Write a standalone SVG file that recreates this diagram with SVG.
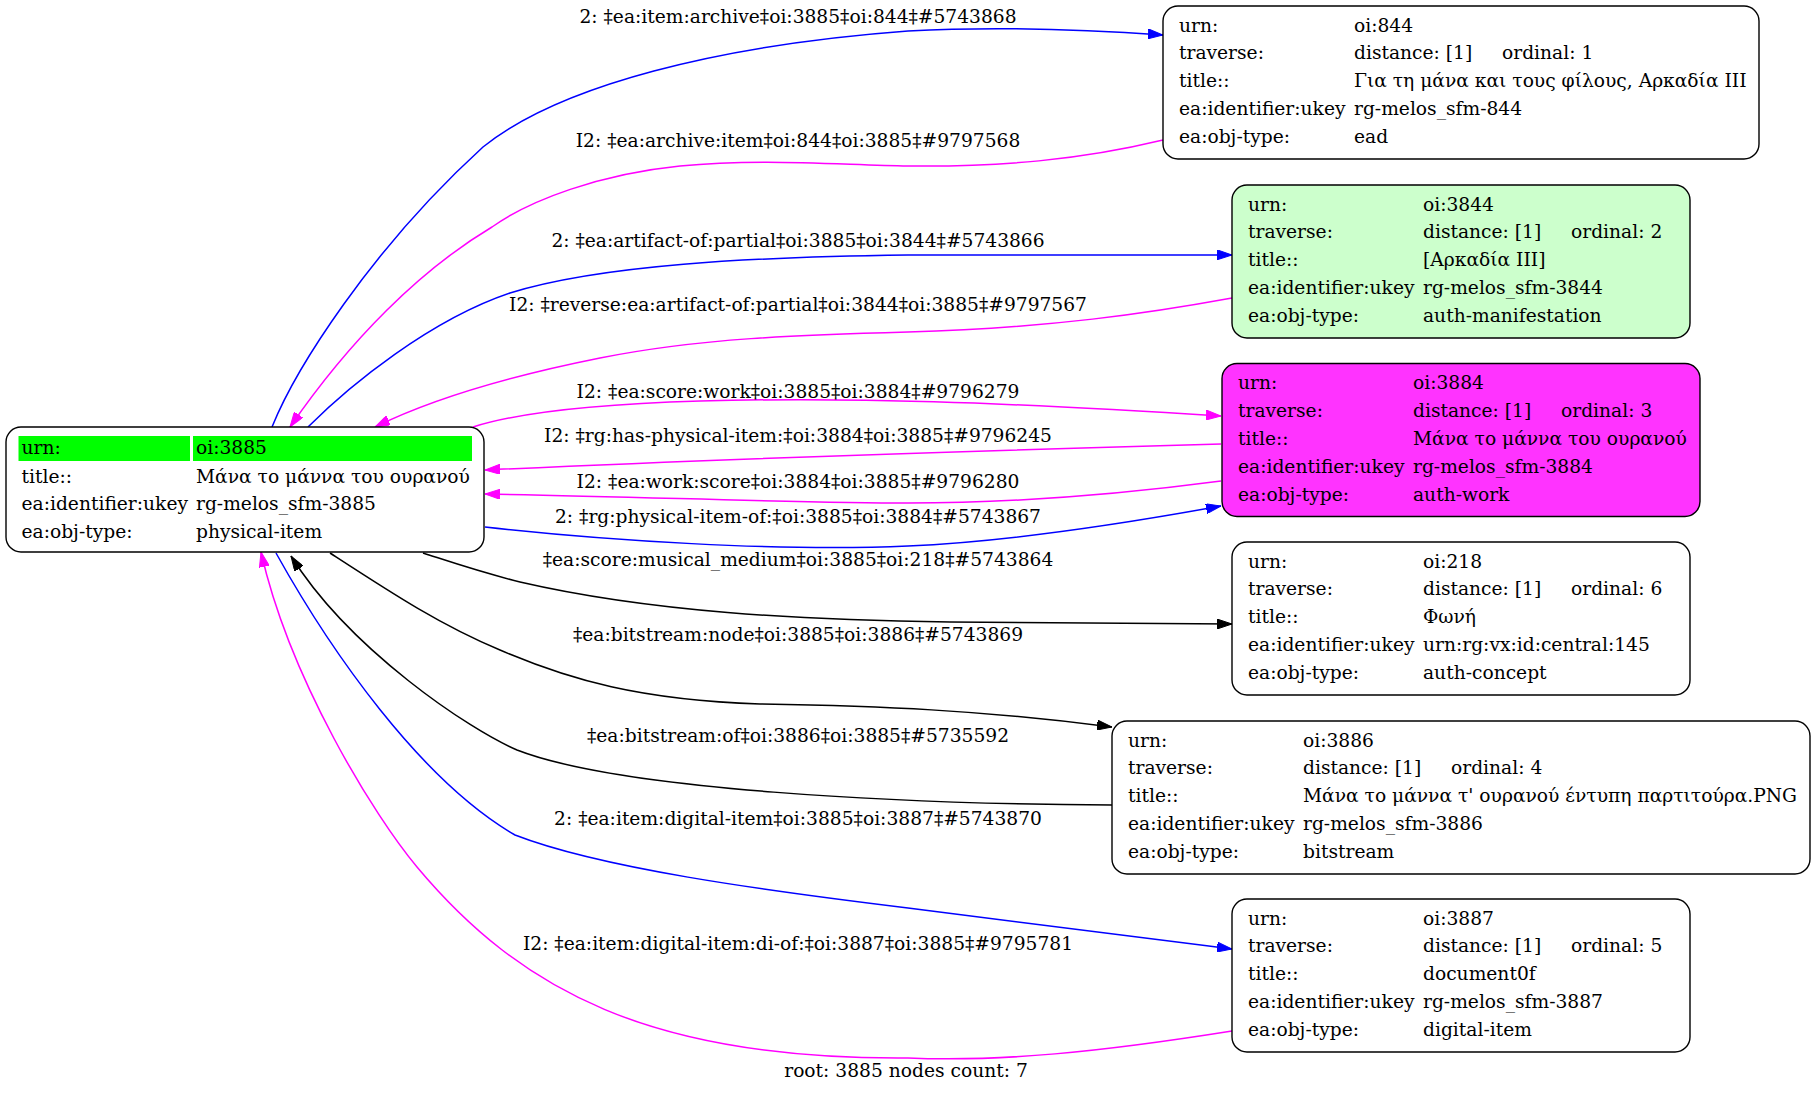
<svg xmlns="http://www.w3.org/2000/svg" width="1816" height="1094" viewBox="0 0 1816 1094">
<style>
text { font-family: "DejaVu Serif", "Liberation Serif", serif; font-size: 18.67px; fill: #000; }
.box { stroke: #000; stroke-width: 1.4; }
.e { fill: none; stroke-width: 1.5; }
.blue { stroke: #0000ff; }
.mag { stroke: #ff00ff; }
.blk { stroke: #000000; }
.lbl { text-anchor: middle; }
</style>
<defs>
<marker id="ab" markerUnits="userSpaceOnUse" viewBox="0 0 15 10" markerWidth="15" markerHeight="10" refX="15" refY="5" orient="auto"><path d="M0,0 L15,5 L0,10 z" fill="#0000ff" stroke="#0000ff" stroke-width="1"/></marker>
<marker id="am" markerUnits="userSpaceOnUse" viewBox="0 0 15 10" markerWidth="15" markerHeight="10" refX="15" refY="5" orient="auto"><path d="M0,0 L15,5 L0,10 z" fill="#ff00ff" stroke="#ff00ff" stroke-width="1"/></marker>
<marker id="ak" markerUnits="userSpaceOnUse" viewBox="0 0 15 10" markerWidth="15" markerHeight="10" refX="15" refY="5" orient="auto"><path d="M0,0 L15,5 L0,10 z" fill="#000" stroke="#000" stroke-width="1"/></marker>
</defs>
<rect width="1816" height="1094" fill="#fff"/>
<g id="edges">
<path class="e blue" marker-end="url(#ab)" d="M272,427 C295,370 370,250 483,147 C560,85 720,45 908,31 C1000,26 1080,29 1163,35"/>
<text class="lbl" x="798" y="23">2: ‡ea:item:archive‡oi:3885‡oi:844‡#5743868</text>
<path class="e mag" marker-end="url(#am)" d="M1163,140 C1080,160 1000,167 908,166 C840,165 760,158 680,166 C600,174 530,200 492,227 C420,270 350,340 290,427"/>
<text class="lbl" x="798" y="147">I2: ‡ea:archive:item‡oi:844‡oi:3885‡#9797568</text>
<path class="e blue" marker-end="url(#ab)" d="M308,427 C350,385 430,320 510,293 C600,265 750,257 908,255 C1050,254 1150,254 1232,255"/>
<text class="lbl" x="798" y="247">2: ‡ea:artifact-of:partial‡oi:3885‡oi:3844‡#5743866</text>
<path class="e mag" marker-end="url(#am)" d="M1232,298 C1150,313 1050,328 908,332 C800,335 700,338 600,358 C530,372 440,395 375,427"/>
<text class="lbl" x="798" y="311">I2: ‡reverse:ea:artifact-of:partial‡oi:3844‡oi:3885‡#9797567</text>
<path class="e mag" marker-end="url(#am)" d="M473,427 C520,412 600,404 700,401 C850,397 1000,402 1221,416"/>
<text class="lbl" x="798" y="398">I2: ‡ea:score:work‡oi:3885‡oi:3884‡#9796279</text>
<path class="e mag" marker-end="url(#am)" d="M1221,444 C1000,450 700,460 485,470"/>
<text class="lbl" x="798" y="442">I2: ‡rg:has-physical-item:‡oi:3884‡oi:3885‡#9796245</text>
<path class="e mag" marker-end="url(#am)" d="M1221,481 C1100,497 1000,503 908,503 C800,503 650,497 485,494"/>
<text class="lbl" x="798" y="488">I2: ‡ea:work:score‡oi:3884‡oi:3885‡#9796280</text>
<path class="e blue" marker-end="url(#ab)" d="M485,527 C600,540 780,552 908,546 C1000,542 1100,528 1221,506"/>
<text class="lbl" x="798" y="523">2: ‡rg:physical-item-of:‡oi:3885‡oi:3884‡#5743867</text>
<path class="e blk" marker-end="url(#ak)" d="M423,553 C460,565 480,572 520,582 C650,612 800,620 950,622 C1050,623.5 1150,624 1232,624"/>
<text class="lbl" x="798" y="566">‡ea:score:musical_medium‡oi:3885‡oi:218‡#5743864</text>
<path class="e blk" marker-end="url(#ak)" d="M330,553 C390,592 440,625 500,650 C570,680 640,700 760,704 C880,706 980,710 1112,727"/>
<text class="lbl" x="798" y="641">‡ea:bitstream:node‡oi:3885‡oi:3886‡#5743869</text>
<path class="e blk" marker-end="url(#ak)" d="M1112,805 C900,804 620,790 517,750 C470,730 350,650 291,556"/>
<text class="lbl" x="798" y="742">‡ea:bitstream:of‡oi:3886‡oi:3885‡#5735592</text>
<path class="e blue" marker-end="url(#ab)" d="M276,553 C330,650 420,780 515,835 C600,868 760,890 908,908 C1030,923 1130,936 1232,949"/>
<text class="lbl" x="798" y="825">2: ‡ea:item:digital-item‡oi:3885‡oi:3887‡#5743870</text>
<path class="e mag" marker-end="url(#am)" d="M1232,1031 C1100,1052 1000,1062 908,1058 C650,1060 520,990 417,867 C375,817 290,680 261,552"/>
<text class="lbl" x="798" y="950">I2: ‡ea:item:digital-item:di-of:‡oi:3887‡oi:3885‡#9795781</text>
</g>
<g id="n3885" transform="translate(6,427)">
<rect class="box" x="0" y="0" width="478" height="125" rx="15" fill="#fff"/>
<rect x="12.5" y="9" width="171.5" height="25" fill="#00ff00"/>
<rect x="187" y="9" width="279" height="25" fill="#00ff00"/>
<text x="15.5" y="26.5">urn:</text><text x="190" y="26.5">oi:3885</text>
<text x="15.5" y="55.5">title::</text><text x="190" y="55.5">Μάνα το μάννα του ουρανού</text>
<text x="15.5" y="83">ea:identifier:ukey</text><text x="190" y="83">rg-melos_sfm-3885</text>
<text x="15.5" y="111">ea:obj-type:</text><text x="190" y="111">physical-item</text>
</g>
<g id="n844" transform="translate(1163,6)">
<rect class="box" x="0" y="0" width="596" height="153" rx="15" fill="#fff"/>
<text x="16" y="25.5">urn:</text><text x="191" y="25.5">oi:844</text>
<text x="16" y="53.4">traverse:</text><text x="191" y="53.4">distance: [1]</text><text x="339" y="53.4">ordinal: 1</text>
<text x="16" y="81.3">title::</text><text x="191" y="81.3">Για τη μάνα και τους φίλους, Αρκαδία ΙΙΙ</text>
<text x="16" y="109.2">ea:identifier:ukey</text><text x="191" y="109.2">rg-melos_sfm-844</text>
<text x="16" y="137.1">ea:obj-type:</text><text x="191" y="137.1">ead</text>
</g>
<g id="n3844" transform="translate(1232,185)">
<rect class="box" x="0" y="0" width="458" height="153" rx="15" fill="#ccffcc"/>
<text x="16" y="25.5">urn:</text><text x="191" y="25.5">oi:3844</text>
<text x="16" y="53.4">traverse:</text><text x="191" y="53.4">distance: [1]</text><text x="339" y="53.4">ordinal: 2</text>
<text x="16" y="81.3">title::</text><text x="191" y="81.3">[Αρκαδία ΙΙΙ]</text>
<text x="16" y="109.2">ea:identifier:ukey</text><text x="191" y="109.2">rg-melos_sfm-3844</text>
<text x="16" y="137.1">ea:obj-type:</text><text x="191" y="137.1">auth-manifestation</text>
</g>
<g id="n3884" transform="translate(1222,363.5)">
<rect class="box" x="0" y="0" width="478" height="153" rx="15" fill="#ff33ff"/>
<text x="16" y="25.5">urn:</text><text x="191" y="25.5">oi:3884</text>
<text x="16" y="53.4">traverse:</text><text x="191" y="53.4">distance: [1]</text><text x="339" y="53.4">ordinal: 3</text>
<text x="16" y="81.3">title::</text><text x="191" y="81.3">Μάνα το μάννα του ουρανού</text>
<text x="16" y="109.2">ea:identifier:ukey</text><text x="191" y="109.2">rg-melos_sfm-3884</text>
<text x="16" y="137.1">ea:obj-type:</text><text x="191" y="137.1">auth-work</text>
</g>
<g id="n218" transform="translate(1232,542)">
<rect class="box" x="0" y="0" width="458" height="153" rx="15" fill="#fff"/>
<text x="16" y="25.5">urn:</text><text x="191" y="25.5">oi:218</text>
<text x="16" y="53.4">traverse:</text><text x="191" y="53.4">distance: [1]</text><text x="339" y="53.4">ordinal: 6</text>
<text x="16" y="81.3">title::</text><text x="191" y="81.3">Φωνή</text>
<text x="16" y="109.2">ea:identifier:ukey</text><text x="191" y="109.2">urn:rg:vx:id:central:145</text>
<text x="16" y="137.1">ea:obj-type:</text><text x="191" y="137.1">auth-concept</text>
</g>
<g id="n3886" transform="translate(1112,721)">
<rect class="box" x="0" y="0" width="698" height="153" rx="15" fill="#fff"/>
<text x="16" y="25.5">urn:</text><text x="191" y="25.5">oi:3886</text>
<text x="16" y="53.4">traverse:</text><text x="191" y="53.4">distance: [1]</text><text x="339" y="53.4">ordinal: 4</text>
<text x="16" y="81.3">title::</text><text x="191" y="81.3">Μάνα το μάννα τ' ουρανού έντυπη παρτιτούρα.PNG</text>
<text x="16" y="109.2">ea:identifier:ukey</text><text x="191" y="109.2">rg-melos_sfm-3886</text>
<text x="16" y="137.1">ea:obj-type:</text><text x="191" y="137.1">bitstream</text>
</g>
<g id="n3887" transform="translate(1232,899)">
<rect class="box" x="0" y="0" width="458" height="153" rx="15" fill="#fff"/>
<text x="16" y="25.5">urn:</text><text x="191" y="25.5">oi:3887</text>
<text x="16" y="53.4">traverse:</text><text x="191" y="53.4">distance: [1]</text><text x="339" y="53.4">ordinal: 5</text>
<text x="16" y="81.3">title::</text><text x="191" y="81.3">document0f</text>
<text x="16" y="109.2">ea:identifier:ukey</text><text x="191" y="109.2">rg-melos_sfm-3887</text>
<text x="16" y="137.1">ea:obj-type:</text><text x="191" y="137.1">digital-item</text>
</g>
<text class="lbl" x="906" y="1077">root: 3885 nodes count: 7</text>
</svg>
